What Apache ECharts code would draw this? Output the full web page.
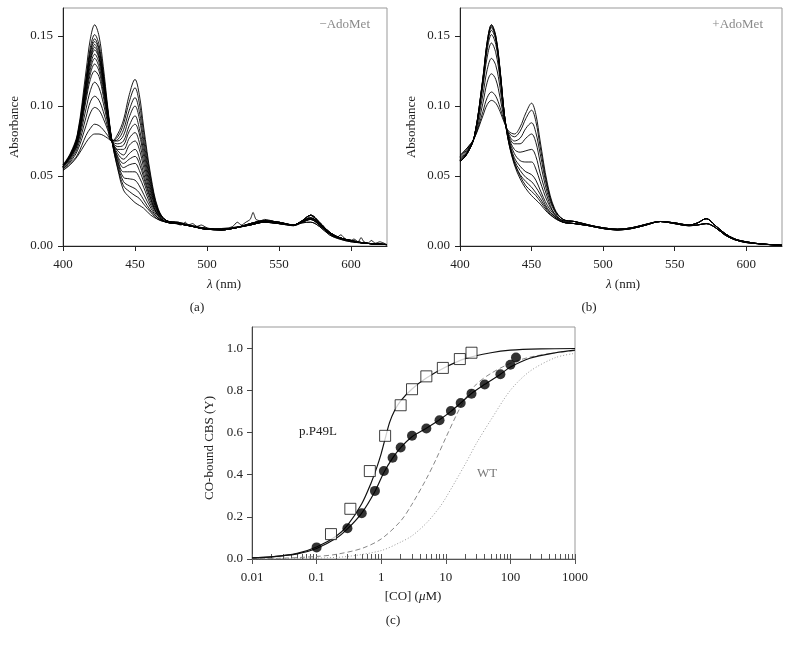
<!DOCTYPE html>
<html><head><meta charset="utf-8">
<script src="https://cdn.jsdelivr.net/npm/echarts@6/dist/echarts.min.js"></script>
<style>html,body{margin:0;padding:0;background:#fff}#c{width:791px;height:649px}</style>
</head><body><div id="c"></div>
<script>
// ---------- DATA ----------
const wlHead = [400,405,410,416,419,422,425,428,431,434,438,442,446,450,453,456,461,466,472];
const wlTail = [480,490,500,510,520,530,540,550,560,566,572,578,585,592,600,610,625];
const xTicksNm = [400,450,500,550,600];
const yTicksAbs = [0,0.05,0.10,0.15];

// Panel (a) -AdoMet : absorbance at wlHead for each spectrum
const specA_head = [
 [.058,.066,.080,.125,.148,.158,.150,.128,.100,.075,.055,.040,.035,.031,.029,.027,.022,.019,.017],
 [.058,.065,.079,.120,.142,.151,.144,.124,.098,.075,.056,.043,.039,.036,.034,.030,.024,.019,.017],
 [.057,.065,.078,.118,.139,.148,.141,.122,.097,.075,.058,.046,.043,.041,.038,.033,.025,.020,.017],
 [.057,.065,.078,.117,.138,.146,.140,.121,.097,.075,.060,.049,.048,.047,.043,.037,.027,.020,.017],
 [.057,.065,.077,.116,.135,.144,.137,.119,.096,.075,.061,.053,.053,.053,.049,.042,.029,.021,.017],
 [.057,.064,.077,.114,.133,.142,.135,.118,.095,.075,.063,.056,.058,.059,.054,.046,.031,.022,.017],
 [.057,.064,.076,.113,.132,.140,.134,.117,.095,.075,.064,.059,.062,.064,.059,.049,.033,.022,.017],
 [.057,.064,.076,.111,.129,.137,.131,.115,.094,.075,.066,.062,.066,.069,.063,.052,.034,.022,.017],
 [.057,.064,.075,.109,.126,.134,.128,.113,.093,.075,.068,.065,.072,.075,.069,.056,.036,.023,.018],
 [.057,.063,.074,.107,.123,.130,.125,.110,.092,.075,.069,.069,.077,.081,.074,.060,.038,.024,.018],
 [.056,.063,.073,.104,.119,.125,.121,.107,.090,.075,.071,.072,.082,.087,.080,.064,.040,.024,.018],
 [.056,.062,.072,.098,.111,.117,.113,.102,.088,.075,.073,.075,.086,.093,.084,.068,.042,.025,.018],
 [.055,.061,.070,.092,.103,.107,.104,.096,.085,.075,.075,.079,.092,.100,.091,.072,.044,.025,.018],
 [.055,.060,.068,.086,.095,.099,.097,.091,.083,.075,.076,.083,.097,.106,.096,.076,.046,.026,.018],
 [.054,.059,.065,.079,.084,.087,.086,.083,.079,.075,.078,.087,.103,.113,.102,.081,.048,.026,.018],
 [.054,.058,.064,.074,.078,.080,.080,.079,.077,.075,.080,.090,.108,.119,.108,.085,.050,.027,.018]
];
const specA_tailIdx = [0,0,0,0,0,1,1,1,1,1,2,2,2,2,3,3];
const specA_tails = [
 [.016,.014,.012,.012,.013,.016,.018,.017,.015,.018,.022,.017,.010,.006,.004,.002,.001],
 [.016,.014,.012,.0115,.013,.0155,.0175,.0165,.015,.0175,.020,.016,.009,.006,.0035,.002,.001],
 [.0165,.014,.0125,.0115,.013,.015,.017,.016,.015,.017,.019,.015,.009,.0055,.0035,.002,.001],
 [.017,.0145,.0125,.012,.0135,.015,.017,.016,.0145,.0165,.017,.014,.008,.005,.003,.002,.001]
];
const noiseA_x = [472,478,482,485,487,490,493,496,500,505,510,515,518,521,524,527,530,532,534,537,540,545,550,555,560,565,570,572,575,580,585,590,593,596,600,602,605,607,609,612,614,617,620,625];
const noiseA_y = [.017,.016,.015,.017,.015,.016,.014,.015,.013,.012,.0125,.013,.014,.017,.015,.017,.019,.024,.019,.018,.019,.018,.0165,.016,.015,.017,.020,.022,.019,.014,.009,.006,.008,.005,.004,.005,.003,.006,.003,.002,.004,.002,.003,.001];

// Panel (b) +AdoMet
const specB_head = [
 [.060,.066,.078,.120,.146,.158,.150,.126,.094,.074,.058,.048,.041,.036,.033,.030,.024,.020,.017],
 [.060,.066,.078,.120,.146,.158,.150,.126,.094,.074,.059,.050,.043,.039,.036,.032,.025,.020,.017],
 [.060,.066,.078,.119,.145,.157,.149,.125,.094,.075,.060,.051,.046,.042,.038,.034,.026,.021,.017],
 [.060,.066,.078,.119,.144,.156,.148,.125,.094,.075,.061,.054,.049,.046,.042,.037,.027,.021,.017],
 [.060,.066,.078,.118,.143,.154,.147,.124,.094,.076,.063,.057,.053,.051,.047,.040,.029,.022,.017],
 [.061,.067,.078,.116,.140,.151,.144,.122,.093,.077,.066,.061,.060,.060,.055,.046,.032,.023,.018],
 [.061,.067,.078,.114,.135,.145,.138,.119,.093,.078,.069,.067,.068,.069,.064,.052,.035,.023,.018],
 [.062,.068,.078,.108,.126,.134,.129,.113,.091,.079,.073,.073,.077,.080,.074,.060,.038,.025,.018],
 [.063,.069,.077,.102,.117,.123,.119,.106,.090,.080,.075,.077,.084,.088,.081,.066,.041,.026,.019],
 [.064,.070,.077,.096,.106,.110,.107,.099,.089,.081,.078,.082,.091,.097,.089,.071,.043,.026,.019],
 [.065,.070,.077,.093,.101,.104,.102,.096,.088,.082,.080,.085,.095,.102,.094,.075,.045,.027,.019]
];
const specB_tailIdx = [0,0,0,0,0,0,1,1,1,1,1];
const specB_tails = [
 [.016,.0145,.0125,.0115,.0125,.015,.0175,.0165,.015,.0165,.0195,.015,.009,.005,.003,.0015,.0005],
 [.0175,.015,.013,.012,.013,.0155,.0175,.016,.0145,.015,.016,.0135,.008,.0045,.0025,.0015,.0005]
];

// Panel (c) CO binding
const coMajor = [0.01,0.1,1,10,100,1000];
const coMinor = [0.02,0.03,0.04,0.05,0.06,0.07,0.08,0.09,0.2,0.3,0.4,0.5,0.6,0.7,0.8,0.9,2,3,4,5,6,7,8,9,20,30,40,50,60,70,80,90,200,300,400,500,600,700,800,900];
const yTicksY = [0,0.2,0.4,0.6,0.8,1.0];
const sqX = [0.167,0.333,0.667,1.15,2.0,3.0,5.0,9.0,16.5,25];
const sqY = [0.118,0.238,0.417,0.584,0.729,0.805,0.866,0.906,0.948,0.978];
const ciX = [0.1,0.3,0.5,0.8,1.1,1.5,2,3,5,8,12,17,25,40,70,100,122];
const ciY = [0.055,0.146,0.217,0.323,0.417,0.480,0.529,0.584,0.619,0.658,0.702,0.740,0.784,0.827,0.876,0.921,0.955];
const sqFitX = [0.01,0.02,0.05,0.1,0.2,0.3,0.5,0.7,0.85,1,1.15,1.35,1.6,2,3,5,10,20,50,100,300,1000];
const sqFitY = [0.005,0.010,0.027,0.057,0.108,0.160,0.262,0.362,0.432,0.500,0.570,0.648,0.702,0.750,0.806,0.858,0.910,0.950,0.978,0.990,0.996,0.998];
const ciFitX = [0.01,0.02,0.05,0.1,0.2,0.3,0.5,0.8,1.1,1.5,2,3,5,8,12,17,25,40,70,100,200,500,1000];
const ciFitY = [0.005,0.010,0.024,0.050,0.098,0.143,0.218,0.320,0.410,0.478,0.528,0.580,0.620,0.660,0.700,0.740,0.785,0.828,0.876,0.910,0.952,0.978,0.990];
const wtDashX = [0.01,0.03,0.1,0.2,0.5,1,2,3,5,7,10,15,20,30,50,100,200,500,1000];
const wtDashY = [0.001,0.004,0.012,0.022,0.050,0.095,0.180,0.260,0.380,0.470,0.575,0.690,0.760,0.830,0.880,0.928,0.957,0.978,0.988];
const wtDotX = [0.01,0.1,0.3,1,2,3,5,8,10,20,30,50,100,200,500,1000];
const wtDotY = [0.0005,0.004,0.012,0.040,0.080,0.110,0.170,0.245,0.290,0.450,0.550,0.660,0.800,0.890,0.955,0.975];

// ---------- CHART ----------
const FONT = '"Liberation Serif","DejaVu Serif",serif';
const AX = '#222';
const zip = (xs, ys) => xs.map((x, i) => [x, ys[i]]);
const wlAll = wlHead.concat(wlTail);

function spectraSeries(heads, tailIdx, tails, axisIdx) {
  return heads.map((h, i) => ({
    type: 'line', xAxisIndex: axisIdx, yAxisIndex: axisIdx,
    data: zip(wlAll, h.concat(tails[tailIdx[i]])),
    symbol: 'none', smooth: 0.35, silent: true,
    lineStyle: { color: '#000', width: 0.9 }
  }));
}

function nmAxis(grid) {
  return {
    gridIndex: grid, type: 'value', min: 400, max: 625,
    axisLine: { lineStyle: { color: AX, width: 1 } },
    axisTick: { customValues: xTicksNm, length: 5, lineStyle: { color: AX } },
    axisLabel: { customValues: xTicksNm, color: AX, fontFamily: FONT, fontSize: 13, margin: 12 },
    splitLine: { show: false }
  };
}
function absAxis(grid) {
  return {
    gridIndex: grid, type: 'value', min: 0, max: 0.17,
    axisLine: { show: true, onZero: false, lineStyle: { color: AX, width: 1 } },
    axisTick: { show: true, customValues: yTicksAbs, length: 5, lineStyle: { color: AX } },
    axisLabel: { customValues: yTicksAbs, color: AX, fontFamily: FONT, fontSize: 13, margin: 10,
      formatter: v => (+v).toFixed(2) },
    splitLine: { show: false }
  };
}

const series = []
  .concat(spectraSeries(specA_head, specA_tailIdx, specA_tails, 0))
  .concat([{ type: 'line', xAxisIndex: 0, yAxisIndex: 0, data: zip(noiseA_x, noiseA_y),
             symbol: 'none', smooth: 0.2, silent: true, lineStyle: { color: '#000', width: 0.9 } }])
  .concat(spectraSeries(specB_head, specB_tailIdx, specB_tails, 1))
  .concat([
    { type: 'line', xAxisIndex: 2, yAxisIndex: 2, data: zip(wtDotX, wtDotY), symbol: 'none', smooth: 0.3,
      lineStyle: { color: '#999', width: 1, type: [1, 2] } },
    { type: 'line', xAxisIndex: 2, yAxisIndex: 2, data: zip(wtDashX, wtDashY), symbol: 'none', smooth: 0.3,
      lineStyle: { color: '#888', width: 1, type: [5, 3] } },
    { type: 'line', xAxisIndex: 2, yAxisIndex: 2, data: zip(ciFitX, ciFitY), symbol: 'none', smooth: 0.3,
      lineStyle: { color: '#111', width: 1.2 } },
    { type: 'line', xAxisIndex: 2, yAxisIndex: 2, data: zip(sqFitX, sqFitY), symbol: 'none', smooth: 0.3,
      lineStyle: { color: '#111', width: 1.2 } },
    { type: 'scatter', xAxisIndex: 2, yAxisIndex: 2, data: zip(ciX, ciY), symbol: 'circle', symbolSize: 10,
      itemStyle: { color: '#000' }, z: 5 },
    { type: 'scatter', xAxisIndex: 2, yAxisIndex: 2, data: zip(sqX, sqY), symbol: 'rect', symbolSize: 11,
      itemStyle: { color: '#fff', borderColor: '#111', borderWidth: 1 }, z: 6 }
  ]);

const txt = (text, x, y, extra) => Object.assign({
  type: 'text', x, y, silent: true,
  style: Object.assign({ text, font: '13px ' + FONT, fill: '#222', align: 'center', verticalAlign: 'middle' },
    (extra && extra.style) || {})
}, extra && extra.rotation ? { rotation: extra.rotation } : {});
const richIt = { i: { fontStyle: 'italic', fontFamily: FONT, fontSize: 13, fill: '#222' } };

const option = {
  animation: false,
  backgroundColor: '#fff',
  grid: [
    { left: 63, top: 8, width: 324, height: 238, show: true, borderColor: '#999', borderWidth: 1 },
    { left: 460, top: 8, width: 322, height: 238, show: true, borderColor: '#999', borderWidth: 1 },
    { left: 252, top: 327, width: 323, height: 232, show: true, borderColor: '#999', borderWidth: 1 }
  ],
  xAxis: [
    nmAxis(0), nmAxis(1),
    { gridIndex: 2, type: 'log', logBase: 10, min: 0.01, max: 1000,
      axisLine: { onZero: false, lineStyle: { color: '#555', width: 1 } },
      axisTick: { customValues: coMajor, length: 5, lineStyle: { color: '#555' } },
      axisLabel: { customValues: coMajor, color: AX, fontFamily: FONT, fontSize: 13, margin: 12,
        formatter: v => String(+(+v).toPrecision(6)) },
      splitLine: { show: false }, minorTick: { show: false } },
    { gridIndex: 2, type: 'log', logBase: 10, min: 0.01, max: 1000, position: 'top', offset: -232,
      axisLine: { show: false, onZero: false },
      axisTick: { customValues: coMajor.concat(coMinor), length: 5, inside: false, lineStyle: { color: '#555' } },
      axisLabel: { show: false }, splitLine: { show: false } }
  ],
  yAxis: [
    absAxis(0), absAxis(1),
    { gridIndex: 2, type: 'value', min: 0, max: 1.1,
      axisLine: { show: true, onZero: false, lineStyle: { color: '#444', width: 1 } },
      axisTick: { show: true, customValues: yTicksY, length: 5, lineStyle: { color: '#444' } },
      axisLabel: { customValues: yTicksY, color: AX, fontFamily: FONT, fontSize: 13, margin: 9,
        formatter: v => (+v).toFixed(1) },
      splitLine: { show: false } }
  ],
  series,
  graphic: [
    txt('Absorbance', 15, 127, { rotation: Math.PI / 2 }),
    txt('Absorbance', 412, 127, { rotation: Math.PI / 2 }),
    txt('{i|λ} (nm)', 224, 285, { style: { rich: richIt } }),
    txt('{i|λ} (nm)', 623, 285, { style: { rich: richIt } }),
    txt('(a)', 197, 308),
    txt('(b)', 589, 308),
    txt('\u2212AdoMet', 370, 25, { style: { align: 'right', fill: '#8a8a8a' } }),
    txt('+AdoMet', 763, 25, { style: { align: 'right', fill: '#8a8a8a' } }),
    txt('CO-bound CBS (Y)', 210, 448, { rotation: Math.PI / 2 }),
    txt('[CO] ({i|μ}M)', 413, 597, { style: { rich: richIt } }),
    txt('(c)', 393, 621),
    txt('p.P49L', 318, 432),
    txt('WT', 487, 474, { style: { fill: '#7a7a7a' } })
  ]
};
const chart = echarts.init(document.getElementById('c'), null, { renderer: 'canvas' });
chart.setOption(option);
</script></body></html>
